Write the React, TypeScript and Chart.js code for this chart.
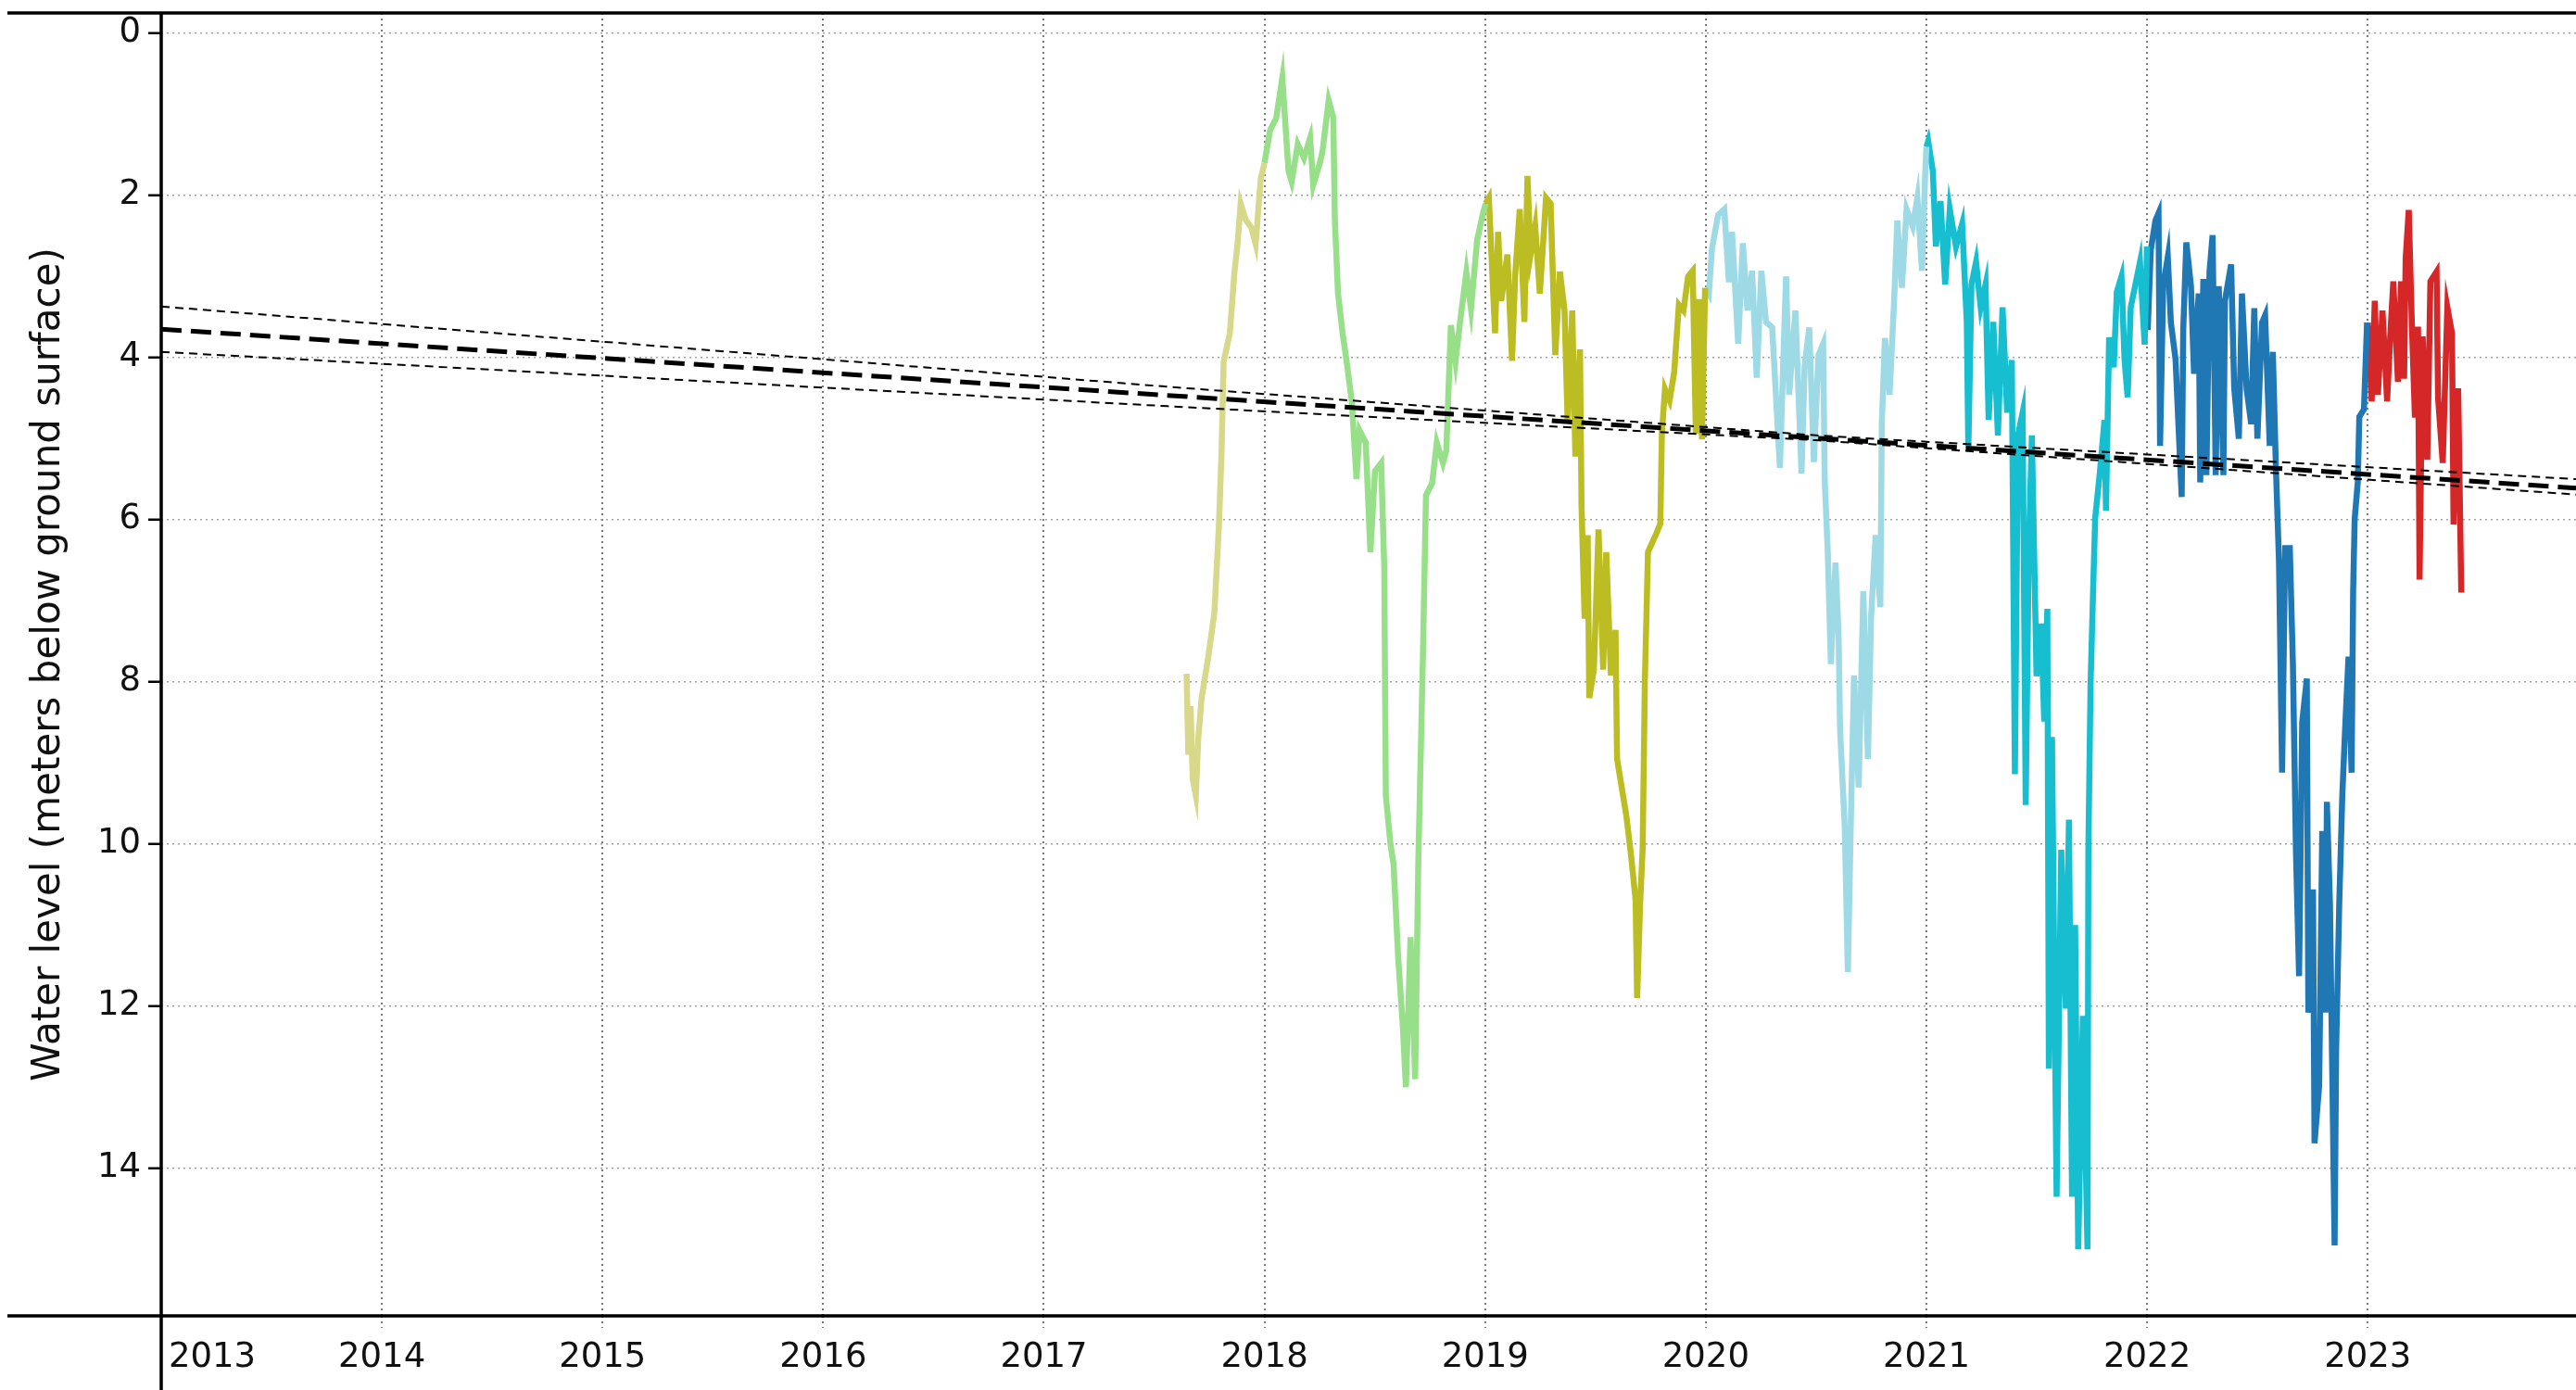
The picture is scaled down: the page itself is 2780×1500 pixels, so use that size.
import React, { useEffect, useRef } from "react";
import { Chart, registerables } from "chart.js";

Chart.register(...registerables);

// ---------- tick labels ----------
const xTickYears = [2013, 2014, 2015, 2016, 2017, 2018, 2019, 2020, 2021, 2022, 2023];
const yTickLevels = [0, 2, 4, 6, 8, 10, 12, 14];
const yAxisTitle = "Water level (meters below ground surface)";

// ---------- water level by calendar year (decimal year, m below ground) ----------
const t2017 = [2017.647, 2017.655, 2017.665, 2017.675, 2017.689, 2017.7, 2017.715, 2017.745, 2017.773, 2017.794, 2017.805, 2017.815, 2017.843, 2017.864, 2017.878, 2017.892, 2017.915, 2017.941, 2017.96, 2017.983, 2018.0];
const w2017 = [7.9, 8.9, 8.3, 9.2, 9.4, 8.7, 8.2, 7.7, 7.15, 6.05, 5.2, 4.05, 3.7, 2.95, 2.6, 2.1, 2.3, 2.4, 2.6, 1.8, 1.6];

const t2018 = [2018.0, 2018.025, 2018.053, 2018.081, 2018.109, 2018.123, 2018.151, 2018.179, 2018.207, 2018.221, 2018.249, 2018.263, 2018.291, 2018.312, 2018.319, 2018.333, 2018.354, 2018.375, 2018.396, 2018.417, 2018.431, 2018.459, 2018.48, 2018.501, 2018.529, 2018.543, 2018.55, 2018.571, 2018.585, 2018.606, 2018.627, 2018.641, 2018.662, 2018.683, 2018.697, 2018.718, 2018.732, 2018.76, 2018.781, 2018.809, 2018.824, 2018.845, 2018.866, 2018.887, 2018.915, 2018.936, 2018.964, 2018.992, 2019.003];
const w2018 = [1.6, 1.2, 1.05, 0.55, 1.7, 1.83, 1.37, 1.54, 1.29, 1.87, 1.62, 1.46, 0.83, 1.04, 2.3, 3.2, 3.7, 4.1, 4.55, 5.5, 4.9, 5.05, 6.4, 5.4, 5.3, 6.6, 9.4, 10.0, 10.25, 11.4, 12.25, 13.0, 11.15, 12.9, 10.25, 7.7, 5.7, 5.55, 5.05, 5.3, 5.15, 3.6, 4.05, 3.55, 2.95, 3.4, 2.55, 2.2, 2.1];

const t2019 = [2019.003, 2019.017, 2019.045, 2019.059, 2019.073, 2019.101, 2019.122, 2019.136, 2019.157, 2019.178, 2019.192, 2019.206, 2019.227, 2019.248, 2019.276, 2019.297, 2019.318, 2019.339, 2019.36, 2019.374, 2019.395, 2019.409, 2019.43, 2019.437, 2019.451, 2019.465, 2019.472, 2019.493, 2019.514, 2019.535, 2019.549, 2019.57, 2019.591, 2019.598, 2019.619, 2019.64, 2019.661, 2019.682, 2019.689, 2019.703, 2019.714, 2019.724, 2019.738, 2019.773, 2019.794, 2019.801, 2019.815, 2019.836, 2019.857, 2019.878, 2019.899, 2019.92, 2019.941, 2019.955, 2019.969, 2019.983, 2019.997];
const w2019 = [2.1, 2.03, 3.7, 2.45, 3.3, 2.73, 4.04, 3.0, 2.17, 3.56, 1.76, 2.73, 2.38, 3.21, 2.03, 2.1, 3.97, 2.94, 3.42, 4.8, 3.42, 5.22, 3.9, 5.84, 7.22, 6.19, 8.2, 7.85, 6.12, 7.85, 6.4, 7.92, 7.36, 8.95, 9.3, 9.65, 10.13, 10.69, 11.9, 10.7, 10.06, 7.99, 6.4, 6.19, 6.05, 4.94, 4.39, 4.53, 4.18, 3.35, 3.42, 3.0, 2.93, 4.94, 3.28, 5.01, 3.14];

const t2020 = [2020.0, 2020.014, 2020.028, 2020.056, 2020.084, 2020.105, 2020.119, 2020.147, 2020.168, 2020.189, 2020.21, 2020.231, 2020.252, 2020.273, 2020.301, 2020.322, 2020.336, 2020.357, 2020.364, 2020.378, 2020.406, 2020.434, 2020.448, 2020.469, 2020.49, 2020.511, 2020.532, 2020.539, 2020.553, 2020.567, 2020.588, 2020.602, 2020.609, 2020.63, 2020.644, 2020.658, 2020.672, 2020.693, 2020.714, 2020.735, 2020.749, 2020.77, 2020.791, 2020.798, 2020.812, 2020.833, 2020.854, 2020.868, 2020.889, 2020.91, 2020.938, 2020.959, 2020.98, 2020.994, 2021.0];
const w2020 = [3.14, 3.21, 2.66, 2.24, 2.17, 3.07, 2.45, 3.83, 2.59, 3.42, 2.93, 4.25, 2.93, 3.56, 3.63, 4.66, 5.36, 3.56, 3.0, 4.46, 3.42, 5.43, 4.11, 3.63, 5.29, 3.97, 3.83, 5.5, 6.4, 7.78, 6.53, 7.43, 8.61, 9.79, 11.58, 9.65, 7.92, 9.3, 6.88, 8.95, 7.22, 6.19, 7.08, 4.8, 3.76, 4.46, 3.28, 2.31, 3.14, 2.17, 2.38, 2.03, 2.93, 1.76, 1.4];

const t2021 = [2021.0, 2021.008, 2021.029, 2021.043, 2021.064, 2021.085, 2021.106, 2021.134, 2021.162, 2021.183, 2021.19, 2021.204, 2021.225, 2021.246, 2021.268, 2021.282, 2021.303, 2021.324, 2021.345, 2021.366, 2021.387, 2021.401, 2021.415, 2021.436, 2021.45, 2021.464, 2021.478, 2021.499, 2021.52, 2021.534, 2021.548, 2021.555, 2021.569, 2021.59, 2021.611, 2021.632, 2021.646, 2021.66, 2021.674, 2021.688, 2021.709, 2021.73, 2021.734, 2021.744, 2021.758, 2021.765, 2021.786, 2021.807, 2021.814, 2021.828, 2021.849, 2021.863, 2021.884, 2021.898, 2021.912, 2021.926, 2021.947, 2021.968, 2021.989, 2022.0];
const w2021 = [1.4, 1.33, 1.7, 2.63, 2.07, 3.1, 2.17, 2.63, 2.35, 3.56, 5.14, 3.1, 2.82, 3.38, 3.1, 4.77, 3.56, 4.96, 3.38, 4.68, 4.03, 9.14, 4.96, 4.68, 9.52, 6.35, 4.96, 7.93, 7.28, 8.49, 7.1, 12.77, 8.68, 14.35, 10.07, 12.03, 9.7, 14.35, 11.0, 15.0, 12.12, 15.0, 10.07, 8.03, 6.63, 5.98, 5.42, 4.77, 5.89, 3.75, 4.12, 3.19, 3.0, 4.03, 4.49, 3.38, 3.1, 2.82, 3.84, 2.63];

const t2022 = [2022.0, 2022.003, 2022.017, 2022.038, 2022.052, 2022.059, 2022.073, 2022.094, 2022.108, 2022.129, 2022.157, 2022.164, 2022.178, 2022.199, 2022.213, 2022.234, 2022.241, 2022.255, 2022.269, 2022.283, 2022.297, 2022.311, 2022.325, 2022.346, 2022.353, 2022.381, 2022.395, 2022.416, 2022.43, 2022.451, 2022.472, 2022.486, 2022.5, 2022.521, 2022.535, 2022.556, 2022.57, 2022.584, 2022.598, 2022.612, 2022.626, 2022.647, 2022.661, 2022.675, 2022.689, 2022.703, 2022.724, 2022.731, 2022.752, 2022.759, 2022.78, 2022.794, 2022.808, 2022.815, 2022.829, 2022.85, 2022.857, 2022.871, 2022.885, 2022.899, 2022.913, 2022.927, 2022.934, 2022.941, 2022.955, 2022.962, 2022.983, 2022.997];
const w2022 = [2.63, 3.66, 2.67, 2.31, 2.22, 5.09, 3.12, 2.76, 3.57, 4.02, 5.72, 3.66, 2.58, 3.12, 4.2, 3.21, 5.54, 3.03, 5.45, 2.94, 2.49, 5.45, 3.12, 5.45, 3.3, 2.85, 4.38, 5.0, 3.21, 4.38, 4.82, 3.39, 5.0, 3.57, 3.48, 5.09, 3.93, 5.36, 6.52, 9.12, 6.35, 6.35, 7.78, 10.11, 11.63, 8.5, 7.96, 12.08, 10.56, 13.69, 12.98, 9.84, 12.08, 9.48, 10.74, 14.95, 12.53, 10.74, 9.39, 8.5, 7.69, 9.12, 6.88, 5.99, 5.54, 4.73, 4.64, 3.57];

const t2023 = [2023.0, 2023.004, 2023.018, 2023.032, 2023.046, 2023.067, 2023.088, 2023.102, 2023.116, 2023.137, 2023.151, 2023.165, 2023.172, 2023.186, 2023.2, 2023.214, 2023.228, 2023.235, 2023.249, 2023.27, 2023.284, 2023.312, 2023.319, 2023.34, 2023.361, 2023.382, 2023.389, 2023.41, 2023.424];
const w2023 = [3.57, 3.74, 4.54, 3.3, 4.46, 3.42, 4.54, 3.74, 3.06, 4.3, 3.06, 4.26, 2.78, 2.18, 3.58, 4.74, 3.62, 6.74, 3.74, 5.26, 3.06, 2.94, 4.5, 5.3, 3.38, 3.7, 6.06, 4.38, 6.9];

// ---------- linear trend and its confidence band ----------
const trendYears = [2013.0, 2023.944];
const trendLevels = [3.65, 5.61];
const bandYears = [2013.0, 2017.56, 2020.5, 2023.944];
const bandUpper = [3.37, 4.36, 4.96, 5.5];
const bandLower = [3.93, 4.6, 5.02, 5.69];

const X_MIN = 2013.0;
const X_MAX = 2023.944;
const Y_MIN = -0.25;
const Y_MAX = 15.82;

const FONT = '"DejaVu Sans", Verdana, sans-serif';

const pts = (xs: number[], ys: number[]) => xs.map((x, i) => ({ x, y: ys[i] }));

const yearSeries = [
  { label: "2017", xs: t2017, ys: w2017, color: "#d8d88a" },
  { label: "2018", xs: t2018, ys: w2018, color: "#98df8a" },
  { label: "2019", xs: t2019, ys: w2019, color: "#bcbd22" },
  { label: "2020", xs: t2020, ys: w2020, color: "#9edae5" },
  { label: "2021", xs: t2021, ys: w2021, color: "#17becf" },
  { label: "2022", xs: t2022, ys: w2022, color: "#1f77b4" },
  { label: "2023", xs: t2023, ys: w2023, color: "#d62728" },
];

const framePlugin = {
  id: "frameAndXLabels",
  afterDraw(chart: any) {
    const { ctx, chartArea } = chart;
    const { left, top, bottom } = chartArea;
    ctx.save();
    ctx.strokeStyle = "#000";
    ctx.lineWidth = 3.5;
    ctx.setLineDash([]);
    ctx.beginPath();
    ctx.moveTo(8, top);
    ctx.lineTo(chart.width, top);
    ctx.moveTo(8, bottom);
    ctx.lineTo(chart.width, bottom);
    ctx.moveTo(left, top - 1.75);
    ctx.lineTo(left, chart.height);
    ctx.stroke();

    const xs = chart.scales.x;
    ctx.font = `37px ${FONT}`;
    ctx.fillStyle = "#111";
    ctx.textAlign = "center";
    ctx.textBaseline = "middle";
    xTickYears.forEach((v) => {
      const s = String(v);
      const px = xs.getPixelForValue(v);
      const w = ctx.measureText(s).width;
      const cx = Math.max(px, left + w / 2 + 8);
      ctx.fillText(s, cx, bottom + 45);
    });
    ctx.restore();
  },
};

export default function App() {
  const ref = useRef<HTMLCanvasElement | null>(null);

  useEffect(() => {
    document.body.style.margin = "0";
    if (!ref.current) return;
    Chart.defaults.font.family = FONT;

    const datasets: any[] = [
      {
        label: "trend",
        data: pts(trendYears, trendLevels),
        borderColor: "#000",
        borderWidth: 5,
        borderDash: [22, 10],
        pointRadius: 0,
        fill: false,
      },
      {
        label: "upper",
        data: pts(bandYears, bandUpper),
        borderColor: "#000",
        borderWidth: 2,
        borderDash: [9, 6],
        pointRadius: 0,
        fill: false,
      },
      {
        label: "lower",
        data: pts(bandYears, bandLower),
        borderColor: "#000",
        borderWidth: 2,
        borderDash: [9, 6],
        pointRadius: 0,
        fill: false,
      },
      ...yearSeries.map((s) => ({
        label: s.label,
        data: pts(s.xs, s.ys),
        borderColor: s.color,
        backgroundColor: s.color,
        borderWidth: 6.5,
        pointRadius: 0,
        tension: 0,
        fill: false,
        borderJoinStyle: "miter",
      })),
    ];

    const chart = new Chart(ref.current, {
      type: "line",
      data: { datasets },
      options: {
        animation: false,
        responsive: false,
        devicePixelRatio: 1,
        layout: { padding: { top: 14, right: 0, left: 0, bottom: 0 } },
        plugins: {
          legend: { display: false },
          tooltip: { enabled: false },
        },
        scales: {
          x: {
            type: "linear",
            min: X_MIN,
            max: X_MAX,
            afterBuildTicks: (scale: any) => {
              scale.ticks = xTickYears.map((v) => ({ value: v }));
            },
            afterFit: (scale: any) => {
              scale.height = 80;
              scale.paddingLeft = 0;
              scale.paddingRight = 0;
            },
            ticks: { display: false },
            grid: {
              color: "#7a7a7a",
              lineWidth: 2,
              tickLength: 13,
              tickColor: "#7a7a7a",
              tickWidth: 2,
              tickBorderDash: [2, 4],
            },
            border: { display: false, dash: [2, 4] },
          },
          y: {
            type: "linear",
            reverse: true,
            min: Y_MIN,
            max: Y_MAX,
            afterBuildTicks: (scale: any) => {
              scale.ticks = yTickLevels.map((v) => ({ value: v }));
            },
            afterFit: (scale: any) => {
              scale.width = 174;
              scale.paddingTop = 0;
              scale.paddingBottom = 0;
            },
            ticks: {
              font: { size: 37, family: FONT },
              color: "#111",
              padding: 8,
            },
            grid: {
              color: "#a3a3a3",
              lineWidth: 1.5,
              tickLength: 14,
              tickColor: "#000",
              tickWidth: 2.5,
              tickBorderDash: [],
            },
            border: { display: false, dash: [2, 4] },
            title: {
              display: true,
              text: yAxisTitle,
              color: "#111",
              font: { size: 42, family: FONT },
              padding: { top: 28, bottom: 0 },
            },
          },
        },
      },
      plugins: [framePlugin],
    } as any);

    return () => chart.destroy();
  }, []);

  return (
    <div style={{ position: "fixed", left: 0, top: 0, width: 2780, height: 1500, background: "#fff" }}>
      <canvas ref={ref} width={2780} height={1500} style={{ display: "block", width: 2780, height: 1500 }} />
    </div>
  );
}
